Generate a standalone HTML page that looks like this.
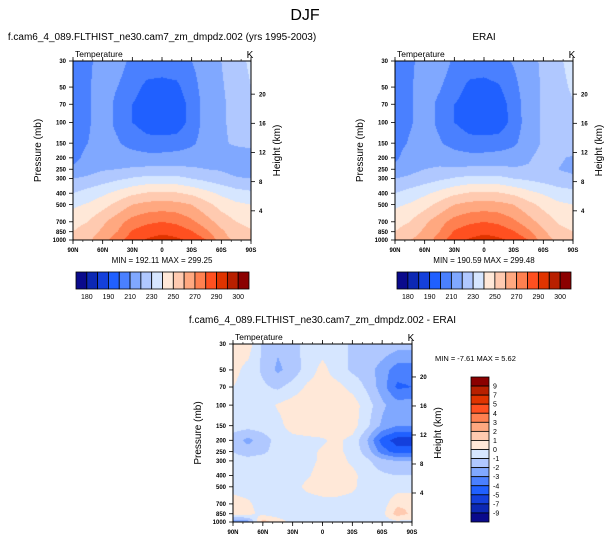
<!DOCTYPE html>
<html><head><meta charset="utf-8">
<style>
body{margin:0;background:#fff;width:611px;height:543px;overflow:hidden;position:relative;font-family:"Liberation Sans",Arial,sans-serif}
canvas{position:absolute}
svg{position:absolute;left:0;top:0}
</style></head>
<body>
<canvas id="c1" style="left:73px;top:61px" width="178" height="179"></canvas>
<canvas id="c2" style="left:395px;top:61px" width="178" height="179"></canvas>
<canvas id="c3" style="left:233px;top:344px" width="179" height="178"></canvas>
<svg id="s" width="611" height="543"></svg>
<script>
const lats = ["90N","75N","60N","45N","30N","15N","0","15S","30S","45S","60S","75S","90S"];
const pLevels = [30,50,70,100,150,200,250,300,400,500,700,850,1000];
const latLabels = ["90N","60N","30N","0","30S","60S","90S"];
const kmTicks = [4,8,12,16,20];
const tempLevels = [180,185,190,200,210,220,230,240,250,260,270,280,290,295,300];
const tempLabels = ["180","190","210","230","250","270","290","300"];
const diffLevels = [-9,-7,-5,-4,-3,-2,-1,0,1,2,3,4,5,7,9];
const diffLabels = ["9","7","5","4","3","2","1","0","-1","-2","-3","-4","-5","-7","-9"];
const colors = ["#0a0a8c","#0c28b4","#1440dc","#2060ff","#4a80ff","#80a8ff","#b0c8ff","#d6e6ff","#ffe8d8","#ffcab0","#ffa880","#ff8050","#ff5020","#e03400","#b82000","#8b0000"];
const modelT = [
[205,208,214,215,207,205,205,206,210,215,220,226,232],
[205,209,214,210,203,198,197,198,206,215,219,224,230],
[205,209,214,208,200,196,195,195,203,215,219,222,226],
[205,209,214,208,200,196,195,195,203,215,219,222,225],
[205,210,213,211,206,203,203,204,208,215,219,221,223],
[207,213,216,216,215,214,214,215,216,217,219,216,214],
[212,216,219,220,221,222,222,222,221,220,219,216,214],
[220,222,225,228,231,233,233,233,230,227,224,221,220],
[230,234,238,243,248,251,252,251,248,243,238,234,232],
[238,241,246,253,260,263,264,263,260,253,246,242,240],
[246,250,258,266,274,278,280,278,272,264,256,250,247],
[250,255,262,270,281,286,288,286,281,272,262,254,251],
[252,258,266,276,286,291,294,292,288,280,264,258,254]];
const eraiT = [
[205,208,214,216,208,205,205,207,211,216,222,228,234],
[205,209,214,211,204,198,197,199,207,216,221,226,232],
[205,209,214,208,200,196,195,195,204,216,221,225,229],
[205,209,214,208,200,196,195,195,203,216,221,224,228],
[206,211,214,211,206,203,203,204,208,216,221,224,226],
[208,215,217,217,215,214,214,215,216,219,223,221,219],
[213,217,220,221,221,222,222,222,221,221,222,220,218],
[220,222,225,228,231,233,233,233,230,228,226,223,222],
[230,234,238,243,248,251,252,251,248,243,239,235,233],
[238,241,246,253,260,263,264,263,260,253,247,242,240],
[246,250,258,266,274,278,280,278,272,264,256,249,246],
[250,255,262,270,281,286,288,286,281,272,262,253,250],
[255,260,264,275,286,291,294,292,288,280,264,258,254]];
const diffT = [
[0.5,0.5,-1.2,-1.8,-1.5,-0.5,-0.5,-0.5,-1.2,-1.2,-1.2,-1.5,-1.5],
[0.3,-0.3,-1.2,-2.2,-1.6,-0.5,0.3,-0.5,-1.2,-1.5,-2.5,-3.5,-3.5],
[0,-0.4,-0.8,-1.2,-0.6,0.2,0.4,0.3,-0.3,-1.2,-2.5,-4.2,-4],
[-0.3,-0.5,-0.5,0.1,0.5,0.6,0.6,0.6,0.5,-0.5,-1.8,-2.5,-2.5],
[-0.5,-0.6,-0.5,-0.3,0.4,0.5,0.5,0.6,0.5,-0.8,-2.2,-3,-3],
[-1.5,-2.3,-1.5,-0.6,-0.3,-0.2,-0.1,0.2,-0.3,-2,-4.5,-5.5,-5.5],
[-1,-1.5,-1.2,-0.6,-0.4,-0.2,0.1,0.2,-0.3,-1.5,-3.5,-4.5,-4.5],
[-0.6,-0.6,-0.5,-0.4,-0.5,-0.3,0.2,0.4,-0.2,-0.8,-1.6,-2,-2],
[-0.5,-0.5,-0.5,-0.5,-0.3,-0.1,0.4,0.5,0.3,-0.5,-0.8,-1,-1],
[-0.3,-0.5,-0.5,-0.5,-0.3,0.2,0.4,0.4,0.2,-0.5,-0.8,-0.5,-0.5],
[0.4,0.2,-0.5,-0.5,-0.5,-0.4,-0.3,-0.3,-0.4,-0.5,-0.5,0.8,0.8],
[0.5,0.3,-0.3,-0.5,-0.5,-0.5,-0.5,-0.5,-0.5,-0.5,-0.3,1.5,0.8],
[-3,-2.5,1.5,0.5,-0.3,-0.5,-0.5,-0.5,-0.5,-0.5,-0.5,-0.3,-0.3]];

const LP0=Math.log(30), LP1=Math.log(1000);
function yOfP(p,top,h){return top+h*(Math.log(p)-LP0)/(LP1-LP0);}
function pOfFrac(f){return Math.exp(LP0+f*(LP1-LP0));}
function level(v,levs){let i=0;while(i<levs.length&&v>=levs[i])i++;return i;}
function interp(grid,fx,p){
  const cx=fx*(lats.length-1);let i=Math.min(Math.floor(cx),lats.length-2);const tx=cx-i;
  const lp=Math.log(p);let j=0;while(j<pLevels.length-2&&Math.log(pLevels[j+1])<lp)j++;
  const ty=(lp-Math.log(pLevels[j]))/(Math.log(pLevels[j+1])-Math.log(pLevels[j]));
  const a=grid[j][i]*(1-tx)+grid[j][i+1]*tx, b=grid[j+1][i]*(1-tx)+grid[j+1][i+1]*tx;
  return a*(1-ty)+b*ty;
}
function hex(c){return [parseInt(c.slice(1,3),16),parseInt(c.slice(3,5),16),parseInt(c.slice(5,7),16)];}
const rgb=colors.map(hex);
function drawField(id,grid,levs){
  const cv=document.getElementById(id),ctx=cv.getContext('2d'),W=cv.width,H=cv.height;
  const img=ctx.createImageData(W,H);
  for(let y=0;y<H;y++){const p=pOfFrac((y+0.5)/H);
    for(let x=0;x<W;x++){const v=interp(grid,(x+0.5)/W,p);const c=rgb[level(v,levs)];const k=(y*W+x)*4;
      img.data[k]=c[0];img.data[k+1]=c[1];img.data[k+2]=c[2];img.data[k+3]=255;}}
  ctx.putImageData(img,0,0);
}
drawField('c1',modelT,tempLevels);
drawField('c2',eraiT,tempLevels);
drawField('c3',diffT,diffLevels);

const S=document.getElementById('s');const NS='http://www.w3.org/2000/svg';
function el(tag,attrs,txt){const e=document.createElementNS(NS,tag);for(const k in attrs)e.setAttribute(k,attrs[k]);if(txt!==undefined)e.textContent=txt;S.appendChild(e);return e;}
function txt(x,y,s,size,anchor,name,extra){const t=el('text',Object.assign({x:x,y:y,'font-size':size,'text-anchor':anchor||'middle','font-family':'Liberation Sans, sans-serif',fill:'#000'},extra||{}),s);
  
  return t;}

function axes(L,T,W,H,title,pfx){
  const r=el('rect',{x:L,y:T,width:W,height:H,fill:'none',stroke:'#000','stroke-width':1});
  
  
  txt(L+2,T-4,'Temperature',8.5,'start',pfx+'-variable-label');
  txt(L+W-1,T-3,'K',10,'middle',pfx+'-units-label');
  if(title)txt(L+W/2,T-21,title,10,'middle',pfx+'-title');
  pLevels.forEach(p=>{const y=yOfP(p,T,H);
    const t=el('line',{x1:L-4,x2:L,y1:y,y2:y,stroke:'#000','stroke-width':0.8});
    
    
    txt(L-7,y+2.2,String(p),6,'end',pfx+'-pressure-tick-label',{'font-weight':'bold'});});
  latLabels.forEach((s,i)=>{const x=L+W*i/(latLabels.length-1);
    const t=el('line',{x1:x,x2:x,y1:T+H,y2:T+H+4,stroke:'#000','stroke-width':0.8});
    
    
    el('line',{x1:x,x2:x,y1:T,y2:T-4,stroke:'#000','stroke-width':0.8});
    txt(x,T+H+12,s,6,'middle',pfx+'-lat-tick-label',{'font-weight':'bold'});});
  for(let k=0;k<=18;k++){const x=L+W*k/18;el('line',{x1:x,x2:x,y1:T+H,y2:T+H+2,stroke:'#000','stroke-width':0.6});el('line',{x1:x,x2:x,y1:T,y2:T-2,stroke:'#000','stroke-width':0.6});}
  kmTicks.forEach(z=>{const p=1000*Math.exp(-z/7);const y=yOfP(p,T,H);
    const t=el('line',{x1:L+W,x2:L+W+4,y1:y,y2:y,stroke:'#000','stroke-width':0.8});
    
    
    txt(L+W+8,y+2.2,String(z),6,'start',pfx+'-height-tick-label',{'font-weight':'bold'});});
  txt(0,0,'Pressure (mb)',10,'middle',pfx+'-y-axis-title',{transform:`translate(${L-32},${T+H/2}) rotate(-90)`});
  txt(0,0,'Height (km)',10,'middle',pfx+'-right-axis-title',{transform:`translate(${L+W+29},${T+H/2}) rotate(-90)`});
}
function hbar(L,T,W,H,pfx){
  const n=colors.length,cw=W/n;
  colors.forEach((c,i)=>{const r=el('rect',{x:L+i*cw,y:T,width:cw,height:H,fill:c,stroke:'#000','stroke-width':0.8});
    
    });
  tempLabels.forEach((s,k)=>{txt(L+cw*(2*k+1)-cw/2+cw/2,T+H+10,s,7,'middle',pfx+'-colorbar-label');});
}
txt(305,20,'DJF',16,'middle','main-title');
axes(73,61,178,179,'f.cam6_4_089.FLTHIST_ne30.cam7_zm_dmpdz.002 (yrs 1995-2003)','model');
axes(395,61,178,179,'ERAI','erai');
axes(233,344,179,178,'f.cam6_4_089.FLTHIST_ne30.cam7_zm_dmpdz.002 - ERAI','diff');
txt(162,263,'MIN = 192.11  MAX = 299.25',8,'middle','model-min-max');
txt(484,263,'MIN = 190.59  MAX = 299.48',8,'middle','erai-min-max');
txt(435,361,'MIN =  -7.61  MAX =   5.62',7.5,'start','diff-min-max');
hbar(76,272,173,17,'model');
hbar(397,272,174,17,'erai');
(function(){const L=471,T=377,W=18,H=145,n=colors.length,ch=H/n;
  for(let i=0;i<n;i++){const r=el('rect',{x:L,y:T+i*ch,width:W,height:ch,fill:colors[n-1-i],stroke:'#000','stroke-width':0.8});
    
    }
  diffLabels.forEach((s,k)=>{txt(493,T+ch*(k+1)+2.5,s,7,'start','diff-colorbar-label');});
})();
</script>
</body></html>
